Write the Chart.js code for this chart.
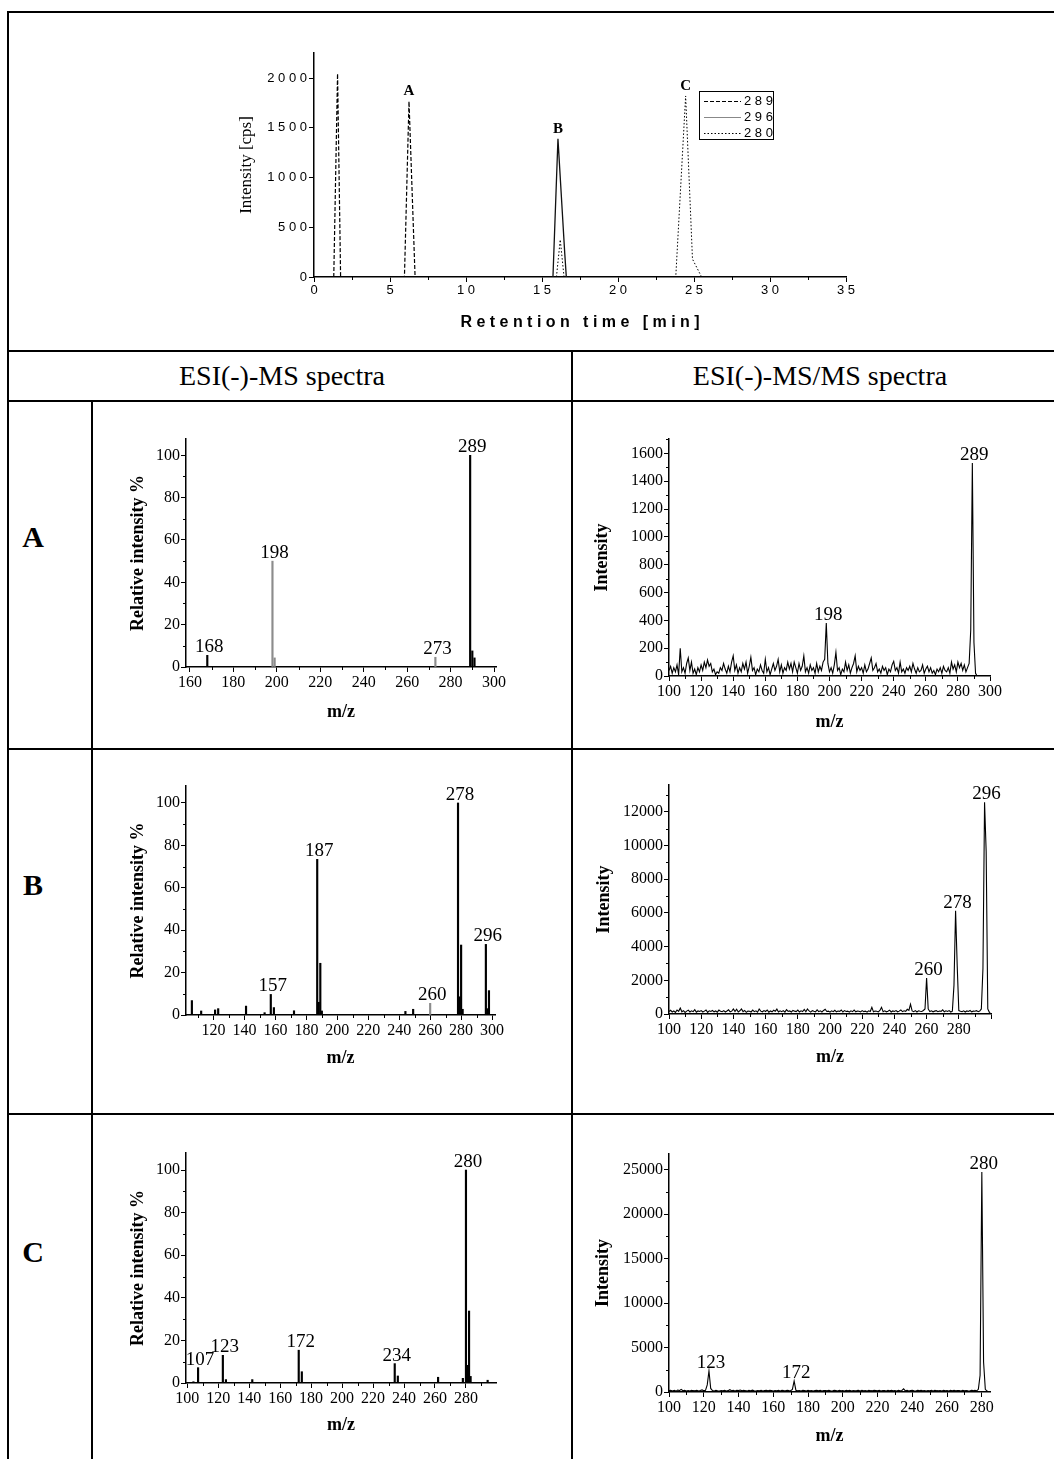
<!DOCTYPE html>
<html>
<head>
<meta charset="utf-8">
<script src="https://cdn.jsdelivr.net/npm/chart.js@4.4.1/dist/chart.umd.min.js"></script>
<style>
body { margin: 0; background: #fff; width: 1054px; height: 1459px; position: relative; overflow: hidden; font-family: "Liberation Serif", "Times New Roman", serif; }
.ln { position: absolute; background: #000; }
.box { position: absolute; }
.hd { position: absolute; font-size: 28px; transform: translate(-50%, -50%); white-space: nowrap; }
.row { position: absolute; font-size: 30px; font-weight: bold; transform: translate(-50%, -50%); }
</style>
</head>
<body>
<!-- table lines -->
<div class="ln" style="left:8px;top:11px;width:1046px;height:2px"></div>
<div class="ln" style="left:7px;top:11px;width:2px;height:1448px"></div>
<div class="ln" style="left:8px;top:350px;width:1046px;height:2px"></div>
<div class="ln" style="left:8px;top:400px;width:1046px;height:2px"></div>
<div class="ln" style="left:571px;top:351px;width:2px;height:1108px"></div>
<div class="ln" style="left:91px;top:401px;width:1.5px;height:1058px"></div>
<div class="ln" style="left:8px;top:748px;width:1046px;height:1.5px"></div>
<div class="ln" style="left:8px;top:1113px;width:1046px;height:1.5px"></div>

<div class="hd" style="left:282px;top:376px">ESI(-)-MS spectra</div>
<div class="hd" style="left:820px;top:376px">ESI(-)-MS/MS spectra</div>
<div class="row" style="left:33px;top:537px">A</div>
<div class="row" style="left:33px;top:885px">B</div>
<div class="row" style="left:33px;top:1252px">C</div>

<div class="box" style="left:236px;top:40px;width:640px;height:292px"><canvas id="chrom"></canvas></div>
<div class="box" style="left:128px;top:420px;width:398px;height:303px"><canvas id="msA"></canvas></div>
<div class="box" style="left:592px;top:420px;width:428px;height:313px"><canvas id="msmsA"></canvas></div>
<div class="box" style="left:128px;top:760px;width:397px;height:309px"><canvas id="msB"></canvas></div>
<div class="box" style="left:594px;top:760px;width:427px;height:308px"><canvas id="msmsB"></canvas></div>
<div class="box" style="left:128px;top:1130px;width:398px;height:306px"><canvas id="msC"></canvas></div>
<div class="box" style="left:593px;top:1130px;width:427px;height:317px"><canvas id="msmsC"></canvas></div>

<script>
// chromatogram (retention time in min, intensity in cps)
var c289_t = [1.3, 1.55, 1.75, 5.95, 6.25, 6.65];
var c289_v = [0, 2045, 0, 0, 1765, 0];
var c296_t = [15.72, 16.05, 16.5, 16.6];
var c296_v = [0, 1390, 230, 0];
var c280_t = [15.95, 16.2, 16.45, 23.8, 24.45, 24.9, 25.5];
var c280_v = [0, 375, 0, 0, 1820, 180, 0];
var peakNames = ['A', 'B', 'C'];
var peakTimes = [6.25, 16.05, 24.45];
var peakHeights = [1765, 1390, 1820];

// ESI(-)-MS spectra, relative intensity %
var msA_mz = [168, 198, 199, 273, 289, 290, 291];
var msA_int = [5.5, 50, 4.3, 4.6, 100, 7.6, 4.3];
var msA_grey = [198, 199, 273];
var msA_labels = [168, 198, 273, 289];

var msB_mz = [106, 112, 121, 123, 141, 153, 157, 159, 172, 187, 188, 189, 190, 244, 249, 260, 278, 279, 280, 281, 296, 297, 298];
var msB_int = [6.8, 1.9, 2.4, 3, 4.2, 1.1, 9.7, 3.5, 2, 73.4, 6, 24.4, 1.9, 1.7, 2.7, 5.5, 100, 8.6, 33, 2.7, 33.3, 3, 11.5];
var msB_grey = [260];
var msB_labels = [157, 187, 260, 278, 296];

var msC_mz = [104, 107, 123, 125, 142, 172, 174, 234, 236, 262, 278, 280, 281, 282, 283, 294];
var msC_int = [0.6, 7.2, 13, 1.6, 1.6, 15.4, 5.3, 9.1, 3.3, 2.7, 2.2, 100, 8.3, 33.8, 3.1, 1.3];
var msC_grey = [];
var msC_labels = [107, 123, 172, 234, 280];

// ESI(-)-MS/MS spectra, intensity at every m/z from the first value
var msmsA_first = 100;
var msmsA_int = [
  40,70,20,60,30,80,10,200,30,60,
  20,90,130,40,100,20,50,10,60,30,
  80,40,100,60,115,70,90,30,50,10,
  30,20,60,40,90,50,20,70,30,100,
  145,40,80,20,60,30,90,50,100,20,
  70,135,40,60,10,50,30,80,40,20,
  120,30,60,10,50,90,40,70,120,30,
  80,20,60,40,100,50,90,30,100,60,
  20,90,40,70,145,30,60,20,80,40,
  60,20,90,30,70,40,100,120,380,90,
  30,60,20,80,170,40,60,10,50,30,
  100,40,80,20,60,90,145,30,70,40,
  60,20,80,30,50,90,130,40,60,90,
  30,50,20,70,40,60,10,50,30,80,
  105,40,60,20,100,30,50,20,60,40,
  70,30,90,50,20,60,30,40,80,20,
  50,70,30,60,20,40,10,50,30,60,
  20,70,40,30,60,20,100,50,80,30,
  100,60,90,40,80,30,60,90,330,1530,
  240,20,0
];
var msmsA_labels = [198, 289];

var msmsB_first = 100;
var msmsB_int = [
  150,220,120,180,100,240,160,350,130,200,
  90,170,230,120,190,140,260,110,180,150,
  200,120,170,240,100,190,150,210,130,180,
  110,230,160,140,200,120,180,250,130,170,
  300,150,280,120,190,300,140,210,100,180,
  160,120,230,140,190,110,300,170,130,200,
  150,240,110,180,130,220,160,290,120,190,
  140,200,110,260,150,180,120,210,170,140,
  230,120,190,150,270,130,300,180,110,200,
  160,130,250,140,190,120,210,280,150,170,
  110,190,140,220,130,180,160,240,120,200,
  150,170,110,190,140,230,130,180,160,120,
  200,140,170,110,190,150,400,130,180,160,
  120,210,400,140,190,130,170,230,120,180,
  150,200,130,170,240,140,190,160,280,220,
  580,180,140,200,120,190,160,150,210,300,
  2140,300,150,190,130,170,200,140,180,160,
  250,130,190,150,200,120,170,1700,6130,2900,
  200,160,140,190,120,180,150,210,130,170,
  160,200,140,180,300,2700,12580,9640,300,100,
  0
];
var msmsB_labels = [260, 278, 296];

var msmsC_first = 100;
var msmsC_int = [
  150,200,120,180,100,220,160,300,140,190,
  120,170,100,200,150,130,180,110,160,240,
  130,190,800,2370,400,160,120,180,140,110,
  170,130,190,120,150,260,140,200,110,180,
  160,220,130,190,150,120,180,140,210,130,
  110,170,140,190,120,160,200,130,180,150,
  120,170,140,200,110,180,150,130,190,160,
  140,300,1240,200,130,170,120,180,150,110,
  190,140,170,120,160,200,130,180,110,150,
  170,130,190,140,120,180,160,110,200,140,
  150,120,180,140,190,110,170,130,160,200,
  120,180,140,170,110,190,150,130,180,160,
  140,200,120,170,150,110,190,130,180,140,
  160,120,190,140,170,350,130,180,110,160,
  200,140,120,180,150,190,130,170,110,160,
  140,180,120,200,150,130,170,110,190,140,
  160,120,180,140,200,130,170,150,110,190,
  130,170,140,120,180,150,200,130,300,1880,
  24740,3380,300,100,0,0
];
var msmsC_labels = [123, 172, 280];

var serif = "'Liberation Serif', 'Times New Roman', serif";
var sans = "'Liberation Sans', Arial, sans-serif";

Chart.defaults.color = '#000';
Chart.defaults.animation = false;
Chart.defaults.plugins.legend.display = false;
Chart.defaults.plugins.tooltip.enabled = false;

function spaced(s) { return String(s).split('').join(' '); }

// put ticks on round multiples of the step, whatever min/max are
function stepTicks(step) {
  return function(s) {
    var t = [];
    for (var v = Math.ceil(s.min / step - 1e-9) * step; v <= s.max + 1e-9; v += step) t.push({ value: Math.round(v * 1000) / 1000 });
    s.ticks = t;
  };
}

// short ticks between the labelled ones
var minorTicks = {
  id: 'minorTicks',
  afterDraw: function(chart, args, o) {
    var ctx = chart.ctx;
    ctx.save();
    ctx.strokeStyle = '#000';
    ctx.lineWidth = 1;
    ['x', 'y'].forEach(function(id) {
      var step = o[id];
      if (!step) return;
      var s = chart.scales[id];
      var major = o[id + 'Major'];
      for (var v = Math.ceil(s.min / step - 1e-9) * step; v <= s.max + 1e-9; v += step) {
        var r = v / major;
        if (Math.abs(r - Math.round(r)) < 1e-6) continue;
        var p = Math.round(s.getPixelForValue(v)) + 0.5;
        ctx.beginPath();
        if (id === 'x') { ctx.moveTo(p, s.top); ctx.lineTo(p, s.top + 3); }
        else { ctx.moveTo(s.right, p); ctx.lineTo(s.right - 3, p); }
        ctx.stroke();
      }
    });
    ctx.restore();
  }
};

// m/z numbers above the peaks
var peakLabels = {
  id: 'peakLabels',
  afterDatasetsDraw: function(chart, args, o) {
    if (!o.list) return;
    var ctx = chart.ctx, x = chart.scales.x, y = chart.scales.y;
    var pts = chart.data.datasets[0].data;
    ctx.save();
    ctx.font = o.font;
    ctx.fillStyle = '#000';
    ctx.textAlign = 'center';
    ctx.textBaseline = 'alphabetic';
    o.list.forEach(function(mz) {
      var top = 0;
      pts.forEach(function(p) { if (Math.abs(p.x - mz) < 0.6 && p.y > top) top = p.y; });
      ctx.fillText(String(mz), x.getPixelForValue(mz) + 2, y.getPixelForValue(top) - o.gap);
    });
    ctx.restore();
  }
};

function axis(isX, o) {
  var step = isX ? o.xStep : o.yStep;
  return {
    type: 'linear',
    min: isX ? o.xMin : 0,
    max: isX ? o.xMax : o.yMax,
    offset: false,
    grid: { drawOnChartArea: false, drawTicks: true, tickLength: 5, tickColor: '#000', offset: false },
    border: { display: true, color: '#000', width: 1.5 },
    ticks: {
      autoSkip: false,
      maxRotation: 0,
      padding: 1,
      color: '#000',
      font: { family: serif, size: 16 },
      callback: function(v) { return (isX && o.xLabelMax && v > o.xLabelMax) ? '' : String(v); }
    },
    title: { display: true, text: isX ? 'm/z' : o.yTitle, padding: 0, color: '#000', font: { family: serif, size: 18, weight: 'bold' } },
    afterBuildTicks: stepTicks(step),
    afterFit: function(s) { if (isX) s.height = o.Lx; else s.width = o.Ly; }
  };
}

function spectrum(id, o) {
  var ds;
  if (o.bars) {
    ds = {
      data: o.mz.map(function(m, i) { return { x: m, y: o.vals[i] }; }),
      backgroundColor: function(c) { return (c.raw && o.grey.indexOf(c.raw.x) >= 0) ? '#8c8c8c' : '#000'; },
      barThickness: 1.5,
      borderWidth: 0
    };
  } else {
    ds = {
      data: o.vals.map(function(v, i) { return { x: o.first + i, y: v }; }),
      borderColor: '#000',
      borderWidth: 1.1,
      pointRadius: 0,
      tension: 0
    };
  }
  new Chart(document.getElementById(id), {
    type: o.bars ? 'bar' : 'line',
    data: { datasets: [ds] },
    plugins: [minorTicks, peakLabels],
    options: {
      responsive: true,
      maintainAspectRatio: false,
      layout: { padding: { top: o.Pt, right: 30, left: 0, bottom: 0 } },
      scales: { x: axis(true, o), y: axis(false, o) },
      plugins: {
        minorTicks: { x: o.xStep / 2, xMajor: o.xStep, y: o.yStep / 2, yMajor: o.yStep },
        peakLabels: { list: o.labels, font: '19px ' + serif, gap: 3 }
      }
    }
  });
}

spectrum('msA', { bars: true, mz: msA_mz, vals: msA_int, grey: msA_grey, labels: msA_labels,
  xMin: 158.2, xMax: 300.9, xStep: 20, yMax: 107.7, yStep: 20, yTitle: 'Relative intensity %', Ly: 58, Lx: 56, Pt: 19 });
spectrum('msB', { bars: true, mz: msB_mz, vals: msB_int, grey: msB_grey, labels: msB_labels,
  xMin: 102.2, xMax: 301.9, xStep: 20, yMax: 108, yStep: 20, yTitle: 'Relative intensity %', Ly: 58, Lx: 54, Pt: 26 });
spectrum('msC', { bars: true, mz: msC_mz, vals: msC_int, grey: msC_grey, labels: msC_labels,
  xMin: 99.2, xMax: 299.4, xStep: 20, yMax: 108, yStep: 20, yTitle: 'Relative intensity %', Ly: 58, Lx: 53, Pt: 23 });
spectrum('msmsA', { bars: false, first: msmsA_first, vals: msmsA_int, labels: msmsA_labels,
  xMin: 100, xMax: 300, xStep: 20, yMax: 1703, yStep: 200, yTitle: 'Intensity', Ly: 77, Lx: 57, Pt: 19 });
spectrum('msmsB', { bars: false, first: msmsB_first, vals: msmsB_int, labels: msmsB_labels,
  xMin: 100, xMax: 300, xStep: 20, xLabelMax: 280, yMax: 13600, yStep: 2000, yTitle: 'Intensity', Ly: 75, Lx: 54, Pt: 25 });
spectrum('msmsC', { bars: false, first: msmsC_first, vals: msmsC_int, labels: msmsC_labels,
  xMin: 100, xMax: 284.7, xStep: 20, yMax: 26770, yStep: 5000, yTitle: 'Intensity', Ly: 76, Lx: 55, Pt: 24 });

// chromatogram
var chromNames = {
  id: 'chromNames',
  afterDatasetsDraw: function(chart) {
    var ctx = chart.ctx, x = chart.scales.x, y = chart.scales.y;
    ctx.save();
    ctx.font = 'bold 15px ' + serif;
    ctx.fillStyle = '#000';
    ctx.textAlign = 'center';
    peakNames.forEach(function(n, i) {
      ctx.fillText(n, x.getPixelForValue(peakTimes[i]), y.getPixelForValue(peakHeights[i]) - 6);
    });
    ctx.restore();
  }
};

var boxLegend = {
  id: 'boxLegend',
  afterDraw: function(chart, args, o) {
    var ctx = chart.ctx, a = chart.chartArea;
    var x0 = a.right - o.right - o.width, y0 = a.top + o.top;
    ctx.save();
    ctx.strokeStyle = '#000';
    ctx.lineWidth = 1;
    ctx.strokeRect(Math.round(x0) + 0.5, Math.round(y0) + 0.5, o.width, o.height);
    ctx.font = '13px ' + sans;
    ctx.textBaseline = 'middle';
    ctx.fillStyle = '#000';
    chart.data.datasets.forEach(function(ds, i) {
      var yy = Math.round(y0 + 10 + i * 16) + 0.5;
      ctx.strokeStyle = ds.legendColor;
      ctx.lineWidth = 1;
      ctx.setLineDash(ds.borderDash || []);
      ctx.beginPath();
      ctx.moveTo(x0 + 5, yy);
      ctx.lineTo(x0 + 42, yy);
      ctx.stroke();
      ctx.fillText(spaced(ds.label), x0 + 45, yy);
    });
    ctx.restore();
  }
};

function pts(t, v) { return t.map(function(tt, i) { return { x: tt, y: v[i] }; }); }

new Chart(document.getElementById('chrom'), {
  type: 'line',
  data: {
    datasets: [
      { label: '289', data: pts(c289_t, c289_v), borderColor: '#000', legendColor: '#000', borderWidth: 1.2, borderDash: [4, 2], pointRadius: 0 },
      { label: '296', data: pts(c296_t, c296_v), borderColor: '#111', legendColor: '#888', borderWidth: 1.3, pointRadius: 0 },
      { label: '280', data: pts(c280_t, c280_v), borderColor: '#000', legendColor: '#000', borderWidth: 1, borderDash: [1.5, 2], pointRadius: 0 }
    ]
  },
  plugins: [minorTicks, chromNames, boxLegend],
  options: {
    responsive: true,
    maintainAspectRatio: false,
    layout: { padding: { top: 13, right: 30, left: 0, bottom: 0 } },
    scales: {
      x: {
        type: 'linear', min: 0, max: 35, offset: false,
        grid: { drawOnChartArea: false, tickLength: 5, tickColor: '#000' },
        border: { color: '#000', width: 1.5 },
        ticks: { maxRotation: 0, autoSkip: false, padding: 1, color: '#000', font: { family: sans, size: 13 }, callback: function(v) { return spaced(v); } },
        title: { display: true, text: 'R e t e n t i o n   t i m e   [ m i n ]', padding: 0, color: '#000', font: { family: sans, size: 16, weight: 'bold' } },
        afterBuildTicks: stepTicks(5),
        afterFit: function(s) { s.height = 55; }
      },
      y: {
        type: 'linear', min: 0, max: 2252,
        grid: { drawOnChartArea: false, tickLength: 5, tickColor: '#000' },
        border: { color: '#000', width: 1.5 },
        ticks: { autoSkip: false, padding: 2, color: '#000', font: { family: sans, size: 13 }, callback: function(v) { return spaced(v); } },
        title: { display: true, text: 'Intensity [cps]', padding: 0, color: '#000', font: { family: serif, size: 17 } },
        afterBuildTicks: stepTicks(500),
        afterFit: function(s) { s.width = 78; }
      }
    },
    plugins: {
      minorTicks: { x: 2.5, xMajor: 5 },
      boxLegend: { right: 73, top: 38, width: 74, height: 48 }
    }
  }
});
</script>
</body>
</html>
